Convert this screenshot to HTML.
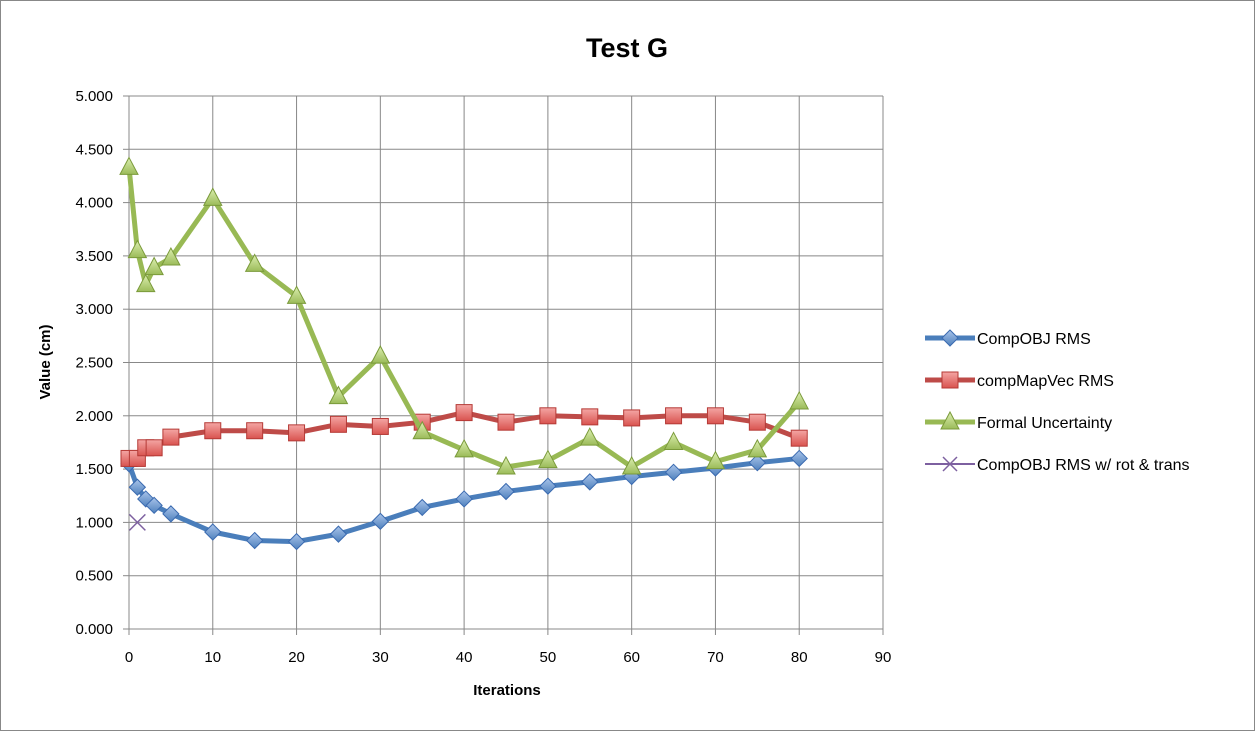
<!DOCTYPE html>
<html><head><meta charset="utf-8"><style>
html,body{margin:0;padding:0;background:#fff}
svg{display:block}
text{font-family:"Liberation Sans",sans-serif}
</style></head><body>
<svg id="c" width="1255" height="731" xmlns="http://www.w3.org/2000/svg">
<defs>
<linearGradient id="gb" x1="0" y1="0" x2="0" y2="1"><stop offset="0" stop-color="#a9c4ea"/><stop offset="1" stop-color="#4f81bd"/></linearGradient>
<linearGradient id="gr" x1="0" y1="0" x2="0" y2="1"><stop offset="0" stop-color="#f4a6a4"/><stop offset="1" stop-color="#d9534f"/></linearGradient>
<linearGradient id="gg" x1="0" y1="0" x2="0" y2="1"><stop offset="0" stop-color="#dcefb0"/><stop offset="1" stop-color="#9bbb59"/></linearGradient>
</defs>
<rect x="0.5" y="0.5" width="1254" height="730" fill="#fff" stroke="#888"/>
<text x="627" y="57" font-size="27" font-weight="bold" text-anchor="middle">Test G</text>
<g id="grid"></g>
<g id="series"></g>
<text x="507" y="695" font-size="15" font-weight="bold" text-anchor="middle">Iterations</text>
<text transform="translate(50,362) rotate(-90)" font-size="15" font-weight="bold" text-anchor="middle">Value (cm)</text>
<g id="legend"></g>
</svg>
<script>
const NS="http://www.w3.org/2000/svg";
function el(p,t,a,txt){const e=document.createElementNS(NS,t);for(const k in a)e.setAttribute(k,a[k]);if(txt!==undefined)e.textContent=txt;p.appendChild(e);return e;}
const X=v=>129+v*(754/90), Y=v=>629-v*(533/5);
const g=document.getElementById('grid');
for(let i=0;i<=10;i++){const y=Y(i*0.5);el(g,'line',{x1:129,x2:883,y1:y,y2:y,stroke:'#888','stroke-width':1});
el(g,'line',{x1:123,x2:129,y1:y,y2:y,stroke:'#888'});
el(g,'text',{x:113,y:y+5,'font-size':15,'text-anchor':'end'},(i*0.5).toFixed(3));}
for(let i=0;i<=9;i++){const x=X(i*10);el(g,'line',{x1:x,x2:x,y1:96,y2:635,stroke:'#888'});
el(g,'text',{x:x,y:662,'font-size':15,'text-anchor':'middle'},i*10);}
const xs=[0,1,2,3,5,10,15,20,25,30,35,40,45,50,55,60,65,70,75,80];
const blue=[1.55,1.33,1.22,1.16,1.08,0.91,0.83,0.82,0.89,1.01,1.14,1.22,1.29,1.34,1.38,1.43,1.47,1.51,1.56,1.60];
const red=[1.60,1.60,1.70,1.70,1.80,1.86,1.86,1.84,1.92,1.90,1.94,2.03,1.94,2.00,1.99,1.98,2.00,2.00,1.94,1.79];
const green=[4.33,3.55,3.23,3.39,3.48,4.04,3.42,3.12,2.18,2.56,1.85,1.68,1.52,1.58,1.79,1.52,1.75,1.57,1.68,2.13];
const s=document.getElementById('series');
function marker(p,type,x,y){
 if(type=='d')el(p,'polygon',{points:`${x},${y-8} ${x+8},${y} ${x},${y+8} ${x-8},${y}`,fill:'url(#gb)',stroke:'#3a6ab0','stroke-width':1});
 if(type=='s')el(p,'rect',{x:x-8,y:y-8,width:16,height:16,fill:'url(#gr)',stroke:'#b53a36','stroke-width':1});
 if(type=='t')el(p,'polygon',{points:`${x},${y-10} ${x+9},${y+7} ${x-9},${y+7}`,fill:'url(#gg)',stroke:'#7a9a3a','stroke-width':1});
}
function series(d,col,type){el(s,'polyline',{points:xs.map((x,i)=>X(x)+','+Y(d[i])).join(' '),fill:'none',stroke:col,'stroke-width':5,'stroke-linejoin':'round'});
 xs.forEach((x,i)=>marker(s,type,X(x),Y(d[i])));}
series(blue,'#4a7ebb','d');series(red,'#be4b48','s');series(green,'#98b954','t');
const px=X(1),py=Y(1.0);
el(s,'path',{d:`M${px-8},${py-8}L${px+8},${py+8}M${px-8},${py+8}L${px+8},${py-8}`,stroke:'#7d60a0','stroke-width':1.5});
const L=document.getElementById('legend');
const items=[['CompOBJ RMS','#4a7ebb','d'],['compMapVec RMS','#be4b48','s'],['Formal Uncertainty','#98b954','t'],['CompOBJ RMS w/ rot & trans','#7d60a0','x']];
items.forEach((it,i)=>{const y=338+i*42;
 el(L,'line',{x1:925,x2:975,y1:y,y2:y,stroke:it[1],'stroke-width':it[2]=='x'?2:5});
 if(it[2]=='x')el(L,'path',{d:`M943,${y-7}L957,${y+7}M943,${y+7}L957,${y-7}`,stroke:it[1],'stroke-width':1.5});
 else marker(L,it[2],950,y);
 el(L,'text',{x:977,y:y+6,'font-size':16},it[0]);});
</script>
</body></html>
